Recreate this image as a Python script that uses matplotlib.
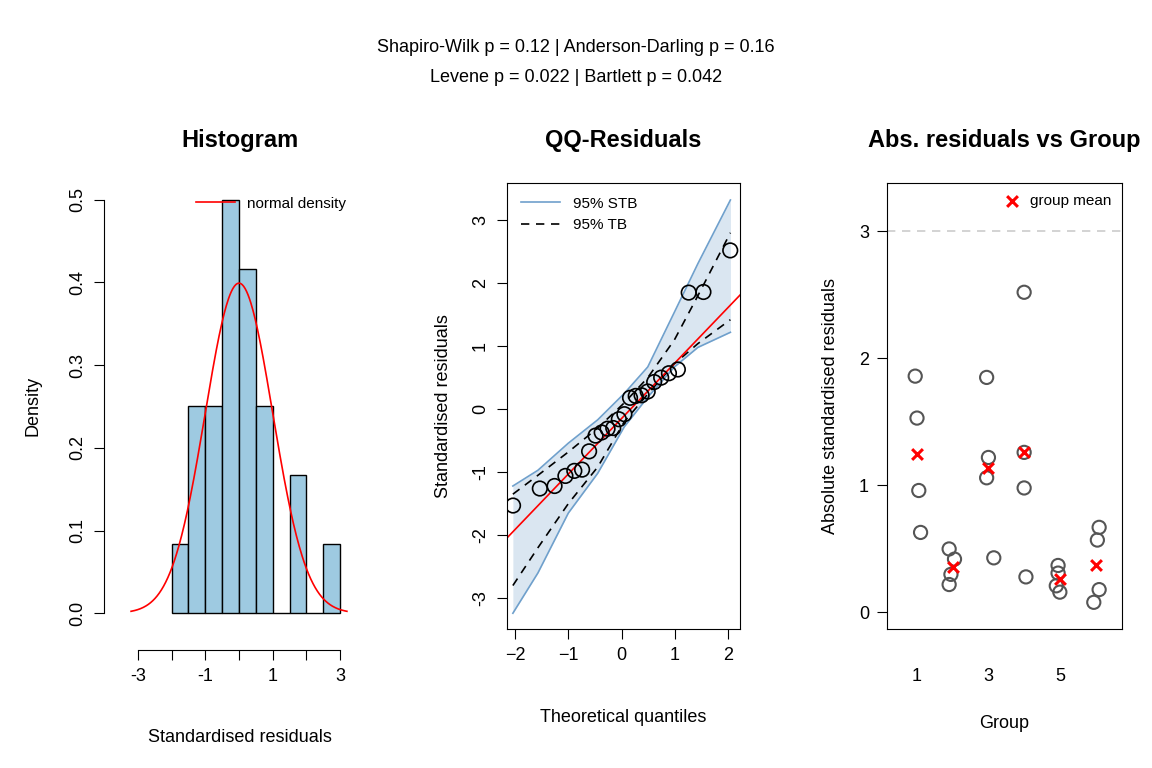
import numpy as np
import matplotlib.pyplot as plt
from statistics import NormalDist

plt.rcParams['font.family'] = ['Liberation Sans', 'DejaVu Sans']

# signed standardised residuals, by group
groups = [1, 2, 3, 4, 5, 6]
resid_by_group = [
    [1.86, -1.53, -0.96, 0.63],
    [0.50, -0.42, -0.30, 0.22],
    [1.85, -1.22, -1.06, 0.43],
    [2.52, -1.26, -0.98, 0.28],
    [-0.37, -0.31, 0.21, -0.16],
    [-0.67, 0.57, 0.18, -0.08],
]
jitter_by_group = [
    [-0.05, 0.0, 0.05, 0.1],
    [-0.1, 0.05, -0.05, -0.1],
    [-0.05, 0.0, -0.05, 0.15],
    [0.0, 0.0, 0.0, 0.05],
    [-0.05, -0.05, -0.1, 0.0],
    [0.1, 0.05, 0.1, -0.05],
]

# confidence bands
band_x = [-2.04, -1.57, -1.0, -0.45, 0.05, 0.49, 0.99, 1.43, 2.04]
stb_upper = [-1.22, -0.97, -0.54, -0.17, 0.25, 0.67, 1.54, 2.31, 3.32]
stb_lower = [-3.24, -2.6, -1.65, -1.02, -0.28, 0.19, 0.67, 0.98, 1.22]
tb_upper = [-1.35, -1.05, -0.68, -0.3, 0.1, 0.5, 1.1, 1.8, 2.8]
tb_lower = [-2.8, -2.2, -1.5, -0.92, -0.2, 0.24, 0.72, 1.04, 1.42]

hist_bins = np.arange(-2, 3.01, 0.5)

resid = np.concatenate([np.array(g) for g in resid_by_group])
n = len(resid)
nd = NormalDist()

fig = plt.figure(figsize=(11.52, 7.68), dpi=100)
top, bot = 1 - 183 / 768, 1 - 629 / 768
h = top - bot
lab_fs, tick_fs, title_fs = 13, 13, 17


def r_style(ax):
    ax.tick_params(direction='out', length=7, labelsize=tick_fs, pad=6)


# --- Histogram
ax1 = fig.add_axes([125 / 1152, bot, 230 / 1152, h])
ax1.hist(resid, bins=hist_bins, density=True, color='#9ECAE1',
         edgecolor='black', linewidth=1)
xs = np.linspace(-3.2, 3.2, 300)
ax1.plot(xs, [nd.pdf(v) for v in xs], color='red', lw=1.2, label='normal density')
ax1.set_xlim(-3.38, 3.44)
ax1.set_ylim(-0.019, 0.52)
for s in ['top', 'right']:
    ax1.spines[s].set_visible(False)
ax1.spines['left'].set_position(('outward', 15))
ax1.spines['bottom'].set_position(('outward', 15))
ax1.spines['left'].set_bounds(0, 0.5)
ax1.spines['bottom'].set_bounds(-3, 3)
ax1.set_xticks(range(-3, 4))
ax1.set_xticklabels(['-3', '', '-1', '', '1', '', '3'])
ax1.set_yticks([0, 0.1, 0.2, 0.3, 0.4, 0.5])
ax1.set_yticklabels(['0.0', '0.1', '0.2', '0.3', '0.4', '0.5'], rotation=90, va='center')
ax1.tick_params(direction='out', length=7, labelsize=tick_fs, pad=6)
ax1.set_xlabel('Standardised residuals', fontsize=lab_fs, labelpad=32)
ax1.set_ylabel('Density', fontsize=lab_fs, labelpad=20)
ax1.set_title('Histogram', fontsize=title_fs, fontweight='bold', pad=26)
ax1.legend(loc='upper right', frameon=False, fontsize=11, handlelength=2.5,
           bbox_to_anchor=(1.02, 1.0))

# --- QQ plot
ax2 = fig.add_axes([507 / 1152, bot, 233 / 1152, h])
p = (np.arange(1, n + 1) - 0.5) / n
q = np.array([nd.inv_cdf(v) for v in p])
ys = np.sort(resid)
ax2.fill_between(band_x, stb_lower, stb_upper, color='#dae6f1', lw=0)
ax2.plot(band_x, stb_upper, color='#6fa0cc', lw=1.2, label='95% STB')
ax2.plot(band_x, stb_lower, color='#6fa0cc', lw=1.2)
ax2.plot(band_x, tb_upper, color='black', lw=1.2, ls=(0, (5, 4)), label='95% TB')
ax2.plot(band_x, tb_lower, color='black', lw=1.2, ls=(0, (5, 4)))
q1, q3 = np.percentile(ys, [25, 75])
t1, t3 = nd.inv_cdf(0.25), nd.inv_cdf(0.75)
slope = (q3 - q1) / (t3 - t1)
icpt = q1 - slope * t1
lx = np.array([-2.3, 2.4])
ax2.plot(lx, icpt + slope * lx, color='red', lw=1.2)
ax2.scatter(q, ys, s=110, facecolors='none', edgecolors='black', linewidths=1.2, zorder=5)
ax2.set_xlim(-2.15, 2.22)
ax2.set_ylim(-3.49, 3.59)
ax2.set_xticks([-2, -1, 0, 1, 2])
ax2.set_yticks([-3, -2, -1, 0, 1, 2, 3])
ax2.set_yticklabels(['-3', '-2', '-1', '0', '1', '2', '3'], rotation=90, va='center')
r_style(ax2)
ax2.set_xlabel('Theoretical quantiles', fontsize=lab_fs, labelpad=32)
ax2.set_ylabel('Standardised residuals', fontsize=lab_fs, labelpad=14)
ax2.set_title('QQ-Residuals', fontsize=title_fs, fontweight='bold', pad=26)
ax2.legend(loc='upper left', frameon=False, fontsize=11, handlelength=2.6)

# --- Abs residuals vs group
ax3 = fig.add_axes([887 / 1152, bot, 235 / 1152, h])
ax3.axhline(3, color='#cccccc', ls=(0, (5, 4)), lw=1.2)
for g, vals, jit in zip(groups, resid_by_group, jitter_by_group):
    a = np.abs(vals)
    ax3.scatter(g + np.array(jit), a, s=90, facecolors='none', edgecolors='#555555',
                linewidths=1.5, zorder=4)
    ax3.scatter([g], [a.mean()], marker='x', color='red', s=60, linewidths=2.2, zorder=5)
ax3.scatter([], [], marker='x', color='red', s=60, linewidths=2.2, label='group mean')
ax3.set_xlim(0.16, 6.74)
ax3.set_ylim(-0.13, 3.38)
ax3.set_xticks(groups)
ax3.set_xticklabels(['1', '', '3', '', '5', ''])
ax3.set_yticks([0, 1, 2, 3])
r_style(ax3)
ax3.tick_params(axis='x', length=0, pad=28)
ax3.set_xlabel('Group', fontsize=lab_fs, labelpad=22)
ax3.set_ylabel('Absolute standardised residuals', fontsize=lab_fs, labelpad=14)
ax3.set_title('Abs. residuals vs Group', fontsize=title_fs, fontweight='bold', pad=26)
ax3.legend(loc='upper right', frameon=False, fontsize=11, handletextpad=0.2,
           borderaxespad=0.3)

fig.text(0.5, 1 - 48 / 768, 'Shapiro-Wilk p = 0.12 | Anderson-Darling p = 0.16',
         ha='center', va='center', fontsize=13)
fig.text(0.5, 1 - 78 / 768, 'Levene p = 0.022 | Bartlett p = 0.042',
         ha='center', va='center', fontsize=13)

fig.savefig('out.png', dpi=100)
